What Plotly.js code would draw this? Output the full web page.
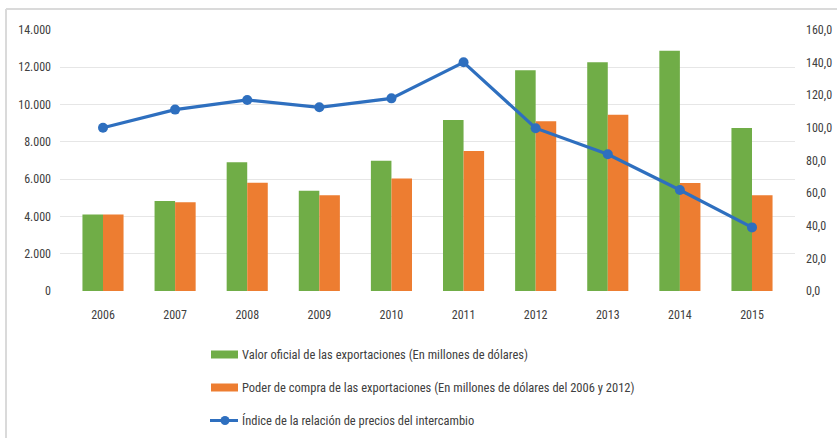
<!DOCTYPE html>
<html>
<head>
<meta charset="utf-8">
<script src="https://cdn.plot.ly/plotly-3.0.1.min.js"></script>
<style>html,body{margin:0;padding:0;background:#fff;}#chart{width:837px;height:438px;}</style>
</head>
<body>
<div id="chart"></div>
<script>
const years = ["2006","2007","2008","2009","2010","2011","2012","2013","2014","2015"];
const valorOficial = [4100, 4830, 6900, 5380, 6990, 9170, 11840, 12270, 12890, 8740];
const poderCompra = [4110, 4760, 5800, 5130, 6040, 7510, 9100, 9460, 5790, 5130];
const indicePrecios = [100.1, 111.2, 117.1, 112.6, 118.1, 140.2, 99.8, 83.8, 61.9, 39.0];
const leftTicks = [0, 2000, 4000, 6000, 8000, 10000, 12000, 14000];
const leftTickText = ["0", "2.000", "4.000", "6.000", "8.000", "10.000", "12.000", "14.000"];
const rightTicks = [0, 20, 40, 60, 80, 100, 120, 140, 160];
const rightTickText = ["0,0", "20,0", "40,0", "60,0", "80,0", "100,0", "120,0", "140,0", "160,0"];
const names = [
  "Valor oficial de las exportaciones (En millones de dólares)",
  "Poder de compra de las exportaciones (En millones de dólares del 2006 y 2012)",
  "Índice de la relación de precios del intercambio"
];
const colors = ["#70AD47", "#ED7D31", "#2E6FBF"];

const fontFam = "'Liberation Sans Narrow', 'Arial Narrow', 'Roboto Condensed', sans-serif";
const txtColor = "#404040";

const traces = [
  {type: "bar", x: years, y: valorOficial, name: names[0], marker: {color: colors[0]}},
  {type: "bar", x: years, y: poderCompra, name: names[1], marker: {color: colors[1]}},
  {type: "scatter", mode: "lines+markers", x: years, y: indicePrecios, name: names[2], yaxis: "y2",
   line: {color: colors[2], width: 3.2}, marker: {color: colors[2], size: 10, symbol: "circle"}}
];

// layout helpers (pixel -> paper coordinates of the plot area)
const L = 60, T = 30, plotW = 735, plotH = 261;
const px = v => (v - L) / plotW;
const py = v => (T + plotH - v) / plotH;

const legendRows = [354.5, 387.5, 420.5];
const shapes = [
  {type: "line", xref: "paper", yref: "paper", x0: px(6), x1: px(837), y0: py(9), y1: py(9),
   line: {color: "#DADADA", width: 2}},
  {type: "line", xref: "paper", yref: "paper", x0: px(6), x1: px(6), y0: py(438), y1: py(9),
   line: {color: "#DADADA", width: 2}}
];
const annotations = [];
for (let i = 0; i < 3; i++) {
  const yc = legendRows[i];
  if (i < 2) {
    shapes.push({type: "rect", xref: "paper", yref: "paper", x0: px(211), x1: px(238), y0: py(yc - 4), y1: py(yc + 4),
                 fillcolor: colors[i], line: {width: 0}});
  } else {
    shapes.push({type: "line", xref: "paper", yref: "paper", x0: px(210), x1: px(238), y0: py(yc), y1: py(yc),
                 line: {color: colors[i], width: 3}});
    shapes.push({type: "circle", xref: "paper", yref: "paper", x0: px(220.5), x1: px(229.5), y0: py(yc - 4.5), y1: py(yc + 4.5),
                 fillcolor: colors[i], line: {width: 0}});
  }
  annotations.push({xref: "paper", yref: "paper", x: px(240), y: py(yc), xanchor: "left", yanchor: "middle",
                    showarrow: false, text: names[i], font: {family: fontFam, size: 12.5, color: txtColor}});
}

const layout = {
  width: 837, height: 438,
  margin: {l: L, r: 42, t: T, b: 147, autoexpand: false},
  paper_bgcolor: "#fff", plot_bgcolor: "#fff",
  font: {family: fontFam, size: 12, color: txtColor},
  barmode: "group", bargap: 0.43, bargroupgap: 0,
  showlegend: false,
  xaxis: {type: "category", showgrid: false, zeroline: false, showline: false, ticks: "",
          tickfont: {family: fontFam, size: 12, color: txtColor}, ticklabelstandoff: 15},
  yaxis: {range: [0, 14000], tickvals: leftTicks, ticktext: leftTickText, showgrid: true, gridcolor: "#E6E6E6",
          gridwidth: 1, zeroline: false, showline: false, ticks: "", ticklabelstandoff: 8,
          tickfont: {family: fontFam, size: 12, color: txtColor}},
  yaxis2: {range: [0, 160], tickvals: rightTicks, ticktext: rightTickText, overlaying: "y", side: "right",
           showgrid: false, zeroline: false, showline: false, ticks: "", ticklabelstandoff: 10,
           tickfont: {family: fontFam, size: 12, color: txtColor}},
  shapes: shapes,
  annotations: annotations
};

Plotly.newPlot("chart", traces, layout, {displayModeBar: false, staticPlot: true});
</script>
</body>
</html>
